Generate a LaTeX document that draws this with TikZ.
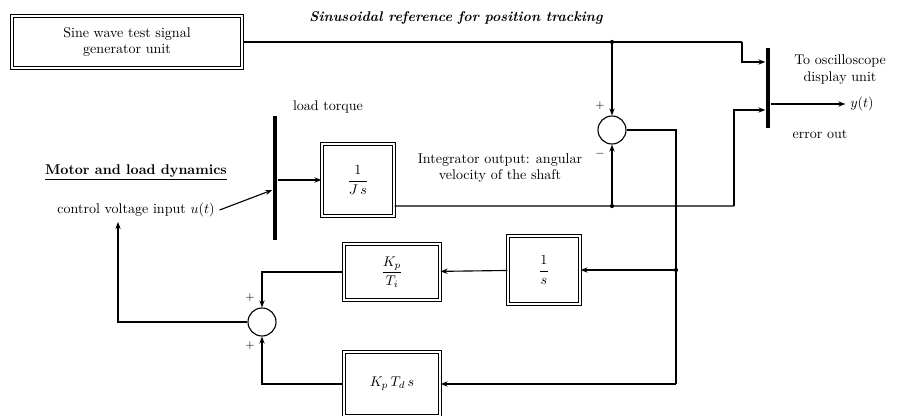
\documentclass[tikz,border=0pt]{standalone}
\usepackage{amsmath, amssymb}
\usepackage{tikz}
\usetikzlibrary{arrows.meta, positioning, calc}

\begin{document}
\begin{tikzpicture}[
    box/.style={rectangle, draw, thick, double, double distance=0.8pt, minimum width=1.8cm, minimum height=1.7cm, align=center, font=\normalsize},
    sum/.style={circle, draw, thick, minimum size=0.7cm, inner sep=0pt},
    bar/.style={rectangle, fill=black, minimum width=0.12cm, inner sep=0pt},
    lbl/.style={font=\normalsize, align=center},
    sgn/.style={font=\footnotesize, inner sep=1pt},
    arr/.style={-{Stealth[length=5pt]}, thick},
    ln/.style={thick}
]
\useasboundingbox (0,0) rectangle (22.575,-10.4);

% Signal source
\node[box, minimum width=5.75cm, minimum height=1.3cm] (gen) at (3.175,-1.05) {Sine wave test signal\\generator unit};
\node[lbl, font=\normalsize\bfseries\itshape] (reflbl) at (11.4,-0.45) {Sinusoidal reference for position tracking};

% Plant
\node[lbl, font=\normalsize\bfseries] (motor) at (3.4,-4.3) {\underline{Motor and load dynamics}};
\node[lbl] (uin) at (3.4,-5.25) {control voltage input $u(t)$};
\node[bar, minimum height=3.1cm] (bus) at (6.875,-4.45) {};
\node[lbl] (load) at (8.2,-2.68) {load torque};
\node[box, minimum height=1.8cm] (plant) at (8.95,-4.5) {$\dfrac{1}{J\,s}$};
\node[lbl] (omega) at (12.5,-4.2) {Integrator output: angular\\velocity of the shaft};

% Comparator and output mux
\node[sum] (sum1) at (15.3,-3.25) {};
\node[sgn] (p1) at (15.0,-2.65) {$+$};
\node[sgn] (m1) at (15.0,-3.85) {$-$};
\node[bar, minimum height=2cm] (mux) at (19.2,-2.2) {};
\node[lbl] (scope) at (21.0,-1.75) {To oscilloscope\\display unit};
\node[lbl] (yout) at (21.55,-2.6) {$y(t)$};
\node[lbl] (errlbl) at (20.5,-3.35) {error out};

% Controller
\node[box] (ki) at (13.6,-6.75) {$\dfrac{1}{s}$};
\node[box, minimum width=2.4cm, minimum height=1.4cm] (ti) at (9.8,-6.8) {$\dfrac{K_p}{T_i}$};
\node[box, minimum width=2.4cm, minimum height=1.6cm] (kd) at (9.8,-9.6) {$K_p\,T_d\,s$};
\node[sum] (sum2) at (6.55,-8.05) {};
\node[sgn] (p2) at (6.25,-7.45) {$+$};
\node[sgn] (p3) at (6.25,-8.65) {$+$};

% Points
\coordinate (j1) at (15.3,-1.05);
\coordinate (c1) at (18.55,-1.05);
\coordinate (pout) at ($(plant.east)+(0,-0.65)$);
\coordinate (j2) at (15.3,-5.15);
\coordinate (c2) at (18.35,-5.15);
\coordinate (c3) at (16.9,-3.25);
\coordinate (j3) at (16.9,-6.75);
\coordinate (c4) at (16.9,-9.6);
\coordinate (c5) at (2.95,-8.05);

% Arrows
\draw[ln] (gen.east |- j1) -- (j1) -- (c1);
\draw[arr] (c1) |- ($(mux.west)+(0,0.65)$);
\draw[arr] (j1) -- (sum1.north);
\draw[ln] (pout) -- (j2) -- (c2);
\draw[arr] (c2) |- ($(mux.west)+(0,-0.55)$);
\draw[arr] (j2) -- (sum1.south);
\draw[arr] (mux.east |- yout) -- (yout);
\draw[ln] (sum1.east) -- (c3) -- (c4);
\draw[arr] (j3) -- (ki.east);
\draw[arr] (c4) -- (kd.east);
\draw[arr] (ki) -- (ti);
\draw[arr] (ti.west) -| (sum2.north);
\draw[arr] (kd.west) -| (sum2.south);
\draw[arr] (sum2.west) -- (c5) -- (c5 |- uin.south);
\draw[arr] (uin.east) -- ($(bus.west)+(0,-0.3)$);
\draw[arr] (bus.east |- plant.west) -- (plant.west);
\fill (j1) circle (1.5pt);
\fill (j2) circle (1.5pt);
\fill (j3) circle (1.5pt);

\end{tikzpicture}
\end{document}
